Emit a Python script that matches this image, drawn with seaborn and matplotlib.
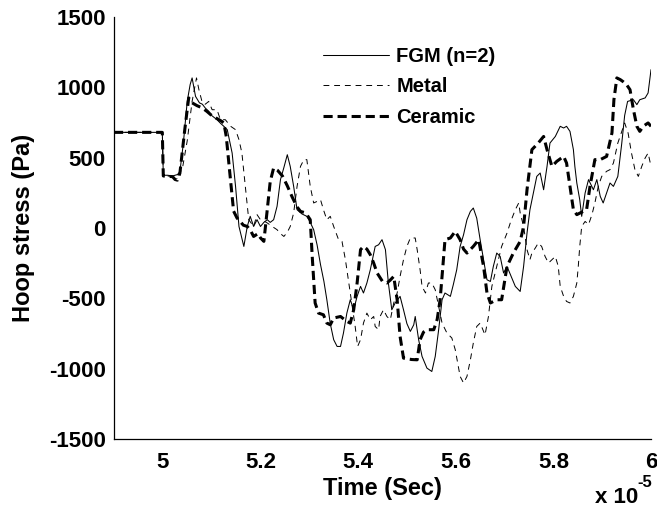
import numpy as np
import pandas as pd
import matplotlib
matplotlib.use("Agg")
import matplotlib.pyplot as plt
import seaborn as sns

# ---------------- data (time in units of 1e-5 s, stress in Pa) ----------------
fgm_t = [4.90, 4.999, 5.001, 5.01, 5.02, 5.03, 5.035, 5.042, 5.05, 5.056, 5.060, 5.067, 5.075, 5.081,
         5.087, 5.094, 5.100, 5.111, 5.118, 5.125, 5.132, 5.142, 5.149, 5.156, 5.166, 5.173, 5.179,
         5.186, 5.193, 5.200, 5.207, 5.214, 5.22, 5.227, 5.234, 5.241, 5.248, 5.255, 5.261, 5.268,
         5.275, 5.285, 5.295, 5.302, 5.309, 5.316, 5.323, 5.330, 5.336, 5.343, 5.350, 5.357, 5.364,
         5.370, 5.377, 5.384, 5.391, 5.398, 5.405, 5.411, 5.418, 5.425, 5.435, 5.442, 5.449, 5.456,
         5.462, 5.469, 5.476, 5.486, 5.493, 5.500, 5.507, 5.514, 5.517, 5.524, 5.531, 5.541, 5.551,
         5.558, 5.565, 5.572, 5.578, 5.589, 5.595, 5.602, 5.609, 5.616, 5.623, 5.630, 5.636, 5.643,
         5.650, 5.657, 5.664, 5.671, 5.677, 5.684, 5.691, 5.698, 5.705, 5.713, 5.722, 5.732, 5.739,
         5.746, 5.752, 5.759, 5.766, 5.773, 5.780, 5.787, 5.793, 5.804, 5.814, 5.821, 5.827, 5.834,
         5.841, 5.844, 5.848, 5.854, 5.858, 5.865, 5.872, 5.882, 5.889, 5.896, 5.902, 5.909, 5.916,
         5.923, 5.932, 5.940, 5.946, 5.952, 5.964, 5.971, 5.977, 5.988, 5.994, 6.000]
fgm_y = [680, 680, 375, 375, 370, 380, 400, 600, 900, 1020, 1067, 936, 890, 880,
         853, 830, 800, 770, 745, 723, 699, 533, 296, 11, -131, 11, 83,
         11, 59, 11, 40, 59, 40, 59, 154, 344, 430, 521, 438, 296,
         130, 100, 83, 40, -12, -120, -260, -380, -510, -680, -794, -842, -842,
         -747, -605, -510, -581, -486, -415, -462, -391, -297, -131, -119, -83, -154,
         -391, -581, -533, -486, -581, -680, -735, -688, -629, -794, -913, -996, -1020,
         -913, -723, -510, -462, -486, -403, -297, -131, -48, 59, 118, 142, 70,
         -83, -225, -368, -380, -273, -178, -202, -320, -273, -340, -415, -451, -273,
         -36, 130, 249, 367, 391, 272, 438, 604, 651, 723, 711, 723, 687,
         557, 438, 320, 201, 83, 249, 344, 272, 344, 225, 178, 249, 320,
         296, 367, 600, 800, 900, 912, 877, 912, 925, 960, 1126]

metal_t = [4.90, 4.999, 5.001, 5.01, 5.02, 5.03, 5.04, 5.05, 5.06, 5.069, 5.074, 5.081, 5.087, 5.094,
           5.101, 5.111, 5.118, 5.128, 5.139, 5.149, 5.156, 5.162, 5.169, 5.176, 5.186, 5.193, 5.200,
           5.207, 5.214, 5.224, 5.234, 5.241, 5.248, 5.255, 5.261, 5.268, 5.275, 5.282, 5.289, 5.295,
           5.302, 5.309, 5.316, 5.323, 5.330, 5.336, 5.343, 5.350, 5.360, 5.367, 5.374, 5.381, 5.388,
           5.394, 5.399, 5.405, 5.411, 5.418, 5.425, 5.432, 5.435, 5.442, 5.445, 5.452, 5.459, 5.466,
           5.473, 5.480, 5.486, 5.493, 5.500, 5.507, 5.517, 5.521, 5.527, 5.531, 5.538, 5.544, 5.551,
           5.558, 5.565, 5.572, 5.582, 5.592, 5.599, 5.609, 5.616, 5.623, 5.630, 5.636, 5.643, 5.650,
           5.660, 5.667, 5.674, 5.684, 5.694, 5.705, 5.713, 5.722, 5.729, 5.732, 5.739, 5.746, 5.752,
           5.756, 5.763, 5.769, 5.776, 5.783, 5.790, 5.797, 5.804, 5.810, 5.814, 5.821, 5.827, 5.834,
           5.841, 5.848, 5.851, 5.854, 5.858, 5.865, 5.872, 5.879, 5.885, 5.892, 5.899, 5.909, 5.916,
           5.923, 5.932, 5.946, 5.953, 5.960, 5.967, 5.974, 5.981, 5.988, 5.994, 6.000]
metal_y = [680, 680, 370, 370, 365, 370, 420, 620, 900, 1067, 983, 889, 880, 900,
           841, 841, 770, 770, 723, 699, 628, 533, 296, 59, 11, 95, 59,
           50, 36, 11, -12, -40, -60, -30, 11, 107, 296, 438, 486, 486,
           296, 178, 189, 201, 120, 59, 83, 11, -83, -95, -225, -391, -558,
           -700, -842, -794, -676, -605, -652, -629, -700, -723, -629, -581, -629, -652,
           -533, -462, -344, -225, -131, -71, -71, -154, -297, -415, -462, -391, -391,
           -439, -558, -676, -747, -782, -865, -1055, -1102, -1055, -937, -818, -700, -676,
           -760, -629, -415, -273, -131, -36, 50, 130, 178, 107, 11, -154, -225,
           -178, -142, -107, -131, -202, -249, -225, -202, -273, -415, -486, -522, -533,
           -486, -391, -273, -131, 11, 47, 24, 95, 178, 296, 367, 403, 415,
           462, 604, 747, 676, 533, 415, 367, 438, 498, 533, 438]

ceramic_t = [4.90, 4.999, 5.001, 5.02, 5.025, 5.03, 5.035, 5.045, 5.053, 5.06, 5.065, 5.07, 5.08, 5.09,
             5.10, 5.11, 5.12, 5.125, 5.13, 5.137, 5.145, 5.152, 5.16, 5.165, 5.173, 5.18, 5.186,
             5.195, 5.20, 5.207, 5.213, 5.22, 5.227, 5.235, 5.245, 5.255, 5.265, 5.275, 5.282, 5.29,
             5.295, 5.302, 5.306, 5.312, 5.319, 5.329, 5.336, 5.343, 5.350, 5.364, 5.377, 5.384, 5.391,
             5.398, 5.405, 5.411, 5.418, 5.425, 5.432, 5.439, 5.45, 5.459, 5.466, 5.473, 5.480, 5.486,
             5.493, 5.50, 5.51, 5.521, 5.527, 5.534, 5.541, 5.555, 5.562, 5.568, 5.573, 5.578, 5.589,
             5.599, 5.609, 5.616, 5.623, 5.636, 5.647, 5.657, 5.664, 5.671, 5.684, 5.694, 5.705, 5.718,
             5.732, 5.739, 5.746, 5.756, 5.769, 5.780, 5.787, 5.797, 5.807, 5.821, 5.827, 5.834, 5.841,
             5.848, 5.861, 5.868, 5.875, 5.885, 5.896, 5.909, 5.920, 5.924, 5.930, 5.937, 5.943, 5.950,
             5.957, 5.964, 5.971, 5.977, 5.984, 5.994, 6.000]
ceramic_y = [680, 680, 370, 365, 345, 340, 390, 700, 925, 890, 880, 870, 855, 830,
             800, 780, 760, 747, 650, 400, 120, 71, 40, 20, 11, -20, -60,
             -40, -70, -95, 100, 330, 427, 410, 370, 300, 220, 150, 118, 110,
             95, 59, -200, -533, -605, -617, -676, -688, -640, -629, -664, -676, -581,
             -391, -154, -131, -150, -190, -250, -320, -380, -391, -370, -344, -510, -771,
             -925, -930, -935, -937, -794, -740, -723, -723, -650, -510, -300, -83, -71,
             -24, -83, -150, -178, -131, -83, -273, -462, -533, -510, -510, -273, -178,
             -95, 11, 272, 557, 604, 651, 557, 438, 474, 509, 462, 296, 130,
             95, 118, 130, 296, 486, 486, 509, 676, 912, 1067, 1055, 1040, 1019,
             983, 841, 723, 687, 723, 747, 723]

series_names = ["FGM (n=2)", "Metal", "Ceramic"]
x_ticks = [5.0, 5.2, 5.4, 5.6, 5.8, 6.0]
x_tick_labels = ["5", "5.2", "5.4", "5.6", "5.8", "6"]
y_ticks = [-1500, -1000, -500, 0, 500, 1000, 1500]
y_tick_labels = ["-1500", "-1000", "-500", "0", "500", "1000", "1500"]

# ---------------- style ----------------
sns.set_style("white")
plt.rcParams["font.family"] = ["Liberation Sans", "DejaVu Sans"]
plt.rcParams["font.weight"] = "bold"
plt.rcParams["text.color"] = "black"
plt.rcParams["axes.labelcolor"] = "black"
plt.rcParams["xtick.color"] = "black"
plt.rcParams["ytick.color"] = "black"

fig = plt.figure(figsize=(6.57, 5.11), dpi=100)
ax = fig.add_axes([0.1735, 0.1409, 0.8174, 0.8258])

sns.lineplot(x=fgm_t, y=fgm_y, ax=ax, color="black", linewidth=0.75,
             estimator=None, sort=False, label=series_names[0])
sns.lineplot(x=metal_t, y=metal_y, ax=ax, color="black", linewidth=0.7,
             estimator=None, sort=False, label=series_names[1], linestyle=(0, (6, 5)))
sns.lineplot(x=ceramic_t, y=ceramic_y, ax=ax, color="black", linewidth=2.2,
             estimator=None, sort=False, label=series_names[2], linestyle=(0, (3.0, 1.6)))

ax.set_xlim(4.9, 6.0)
ax.set_ylim(-1500, 1500)
ax.set_xticks(x_ticks)
ax.set_xticklabels(x_tick_labels)
ax.set_yticks(y_ticks)
ax.set_yticklabels(y_tick_labels)
ax.tick_params(axis="both", direction="in", length=4, width=0.8, color="black",
               labelcolor="black", labelsize=16, pad=6)
ax.tick_params(axis="x", pad=9)
for lab in ax.get_xticklabels() + ax.get_yticklabels():
    lab.set_fontweight("bold")

ax.spines["top"].set_visible(False)
ax.spines["right"].set_visible(False)
for s in ["left", "bottom"]:
    ax.spines[s].set_color("black")
    ax.spines[s].set_linewidth(0.9)

ax.set_xlabel("Time (Sec)", fontsize=17, fontweight="bold", labelpad=3, color="black")
ax.set_ylabel("Hoop stress (Pa)", fontsize=17, fontweight="bold", labelpad=10, color="black")

leg = ax.legend(loc="upper left", bbox_to_anchor=(0.389, 0.928), frameon=False,
                handlelength=3.3, handletextpad=0.35, labelspacing=0.55,
                borderaxespad=0, borderpad=0,
                prop={"size": 14.5, "weight": "bold"})
for txt in leg.get_texts():
    txt.set_color("black")

fig.text(595 / 657, 1 - 503 / 511, "x 10", fontsize=16, fontweight="bold",
         ha="left", va="baseline", color="black")
fig.text(637 / 657, 1 - 487 / 511, "-5", fontsize=12, fontweight="bold",
         ha="left", va="baseline", color="black")

fig.savefig("out.png", dpi=100)
